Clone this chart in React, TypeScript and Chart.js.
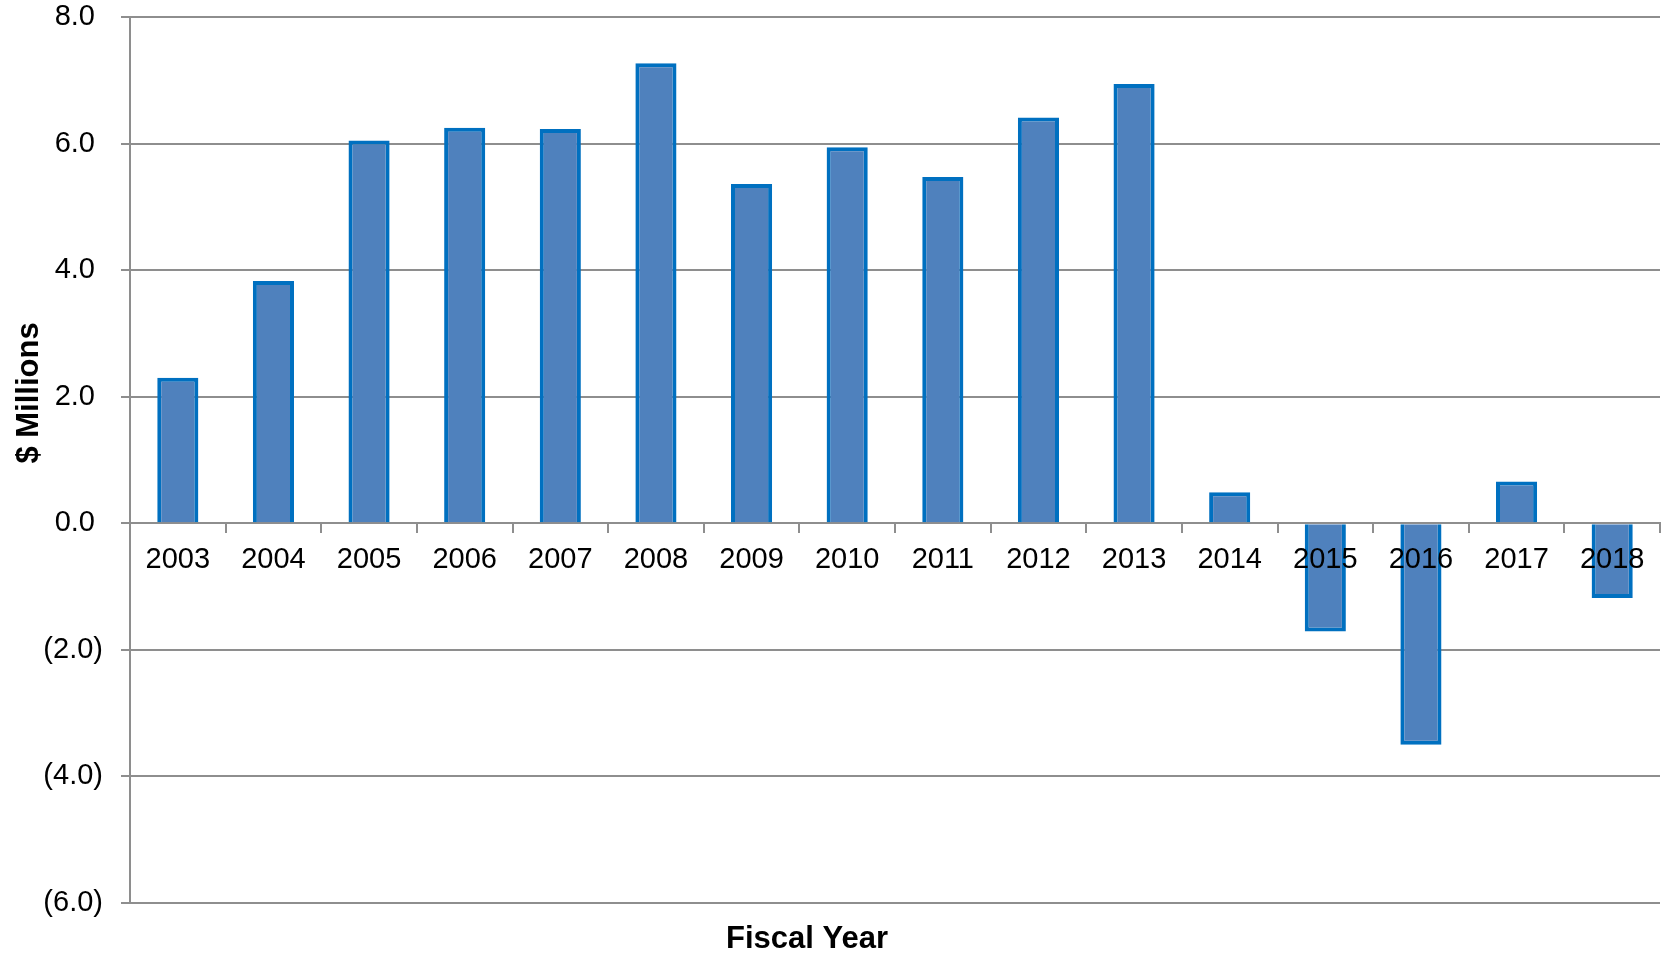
import React, { useEffect, useRef } from "react";
import { Chart, registerables } from "chart.js";

Chart.register(...registerables);

// Fiscal years on the category axis
const fiscalYears = [
  "2003", "2004", "2005", "2006", "2007", "2008", "2009", "2010",
  "2011", "2012", "2013", "2014", "2015", "2016", "2017", "2018",
];

// Net result per fiscal year, $ millions
const netMillions = [
  2.3, 3.83, 6.05, 6.25, 6.23, 7.27, 5.36, 5.94,
  5.47, 6.41, 6.94, 0.49, -1.71, -3.5, 0.66, -1.18,
];

// Value axis range and spacing
const yMin = -6;
const yMax = 8;
const yStep = 2;

const yAxisTitle = "$ Millions";
const xAxisTitle = "Fiscal Year";

const FONT = '"Liberation Sans", Arial, Helvetica, sans-serif';
const GRID = "#8e8e8e";

// Accounting style: negatives in parentheses, positives padded so digits line up
const formatMillions = (v: number) =>
  v < 0 ? `(${Math.abs(v).toFixed(1)})` : `${v.toFixed(1)} `;

// Axis titles are placed by hand
const axisTitles = {
  id: "axisTitles",
  afterDraw(chart: Chart) {
    const ctx = chart.ctx;
    ctx.save();
    ctx.fillStyle = "#000";
    ctx.font = `bold 31px ${FONT}`;
    ctx.textAlign = "center";
    ctx.textBaseline = "alphabetic";
    ctx.fillText(xAxisTitle, 807, 948);

    ctx.translate(38, 393);
    ctx.rotate(-Math.PI / 2);
    ctx.fillText(yAxisTitle, 0, 0);
    ctx.restore();
  },
};

export default function App() {
  const canvasRef = useRef<HTMLCanvasElement | null>(null);

  useEffect(() => {
    document.body.style.margin = "0";
    const canvas = canvasRef.current;
    if (!canvas) return;

    const chart = new Chart(canvas, {
      type: "bar",
      data: {
        labels: fiscalYears,
        datasets: [
          {
            data: netMillions,
            backgroundColor: "#4F81BD",
            borderColor: "#0070C0",
            borderWidth: 4,
            barPercentage: 0.43,
            categoryPercentage: 1,
          },
        ],
      },
      options: {
        responsive: false,
        animation: false,
        events: [],
        layout: { padding: { left: 0, top: 17, right: 11, bottom: 51 } },
        plugins: {
          legend: { display: false },
          tooltip: { enabled: false },
          title: { display: false },
        },
        scales: {
          x: {
            type: "category",
            position: { y: 0 },
            offset: true,
            grid: {
              offset: true,
              drawOnChartArea: false,
              drawTicks: true,
              tickLength: 9,
              color: GRID,
              lineWidth: 2,
            },
            border: { display: true, color: GRID, width: 2 },
            ticks: {
              z: 1,
              color: "#000",
              font: { family: FONT, size: 29 },
              padding: 10,
              maxRotation: 0,
              autoSkip: false,
            },
          },
          y: {
            type: "linear",
            min: yMin,
            max: yMax,
            afterFit: (scale: any) => {
              scale.width = 130;
              scale.paddingTop = 0;
              scale.paddingBottom = 0;
            },
            grid: {
              color: GRID,
              lineWidth: 2,
              drawTicks: true,
              tickLength: 9,
            },
            border: { display: true, color: GRID, width: 2 },
            ticks: {
              stepSize: yStep,
              color: "#000",
              font: { family: FONT, size: 29 },
              padding: 18,
              callback: (v: any) => formatMillions(Number(v)),
            },
          },
        },
      },
      plugins: [axisTitles],
    });

    return () => chart.destroy();
  }, []);

  return (
    <div style={{ width: 1671, height: 954, background: "#fff" }}>
      <canvas ref={canvasRef} width={1671} height={954} style={{ display: "block" }} />
    </div>
  );
}
